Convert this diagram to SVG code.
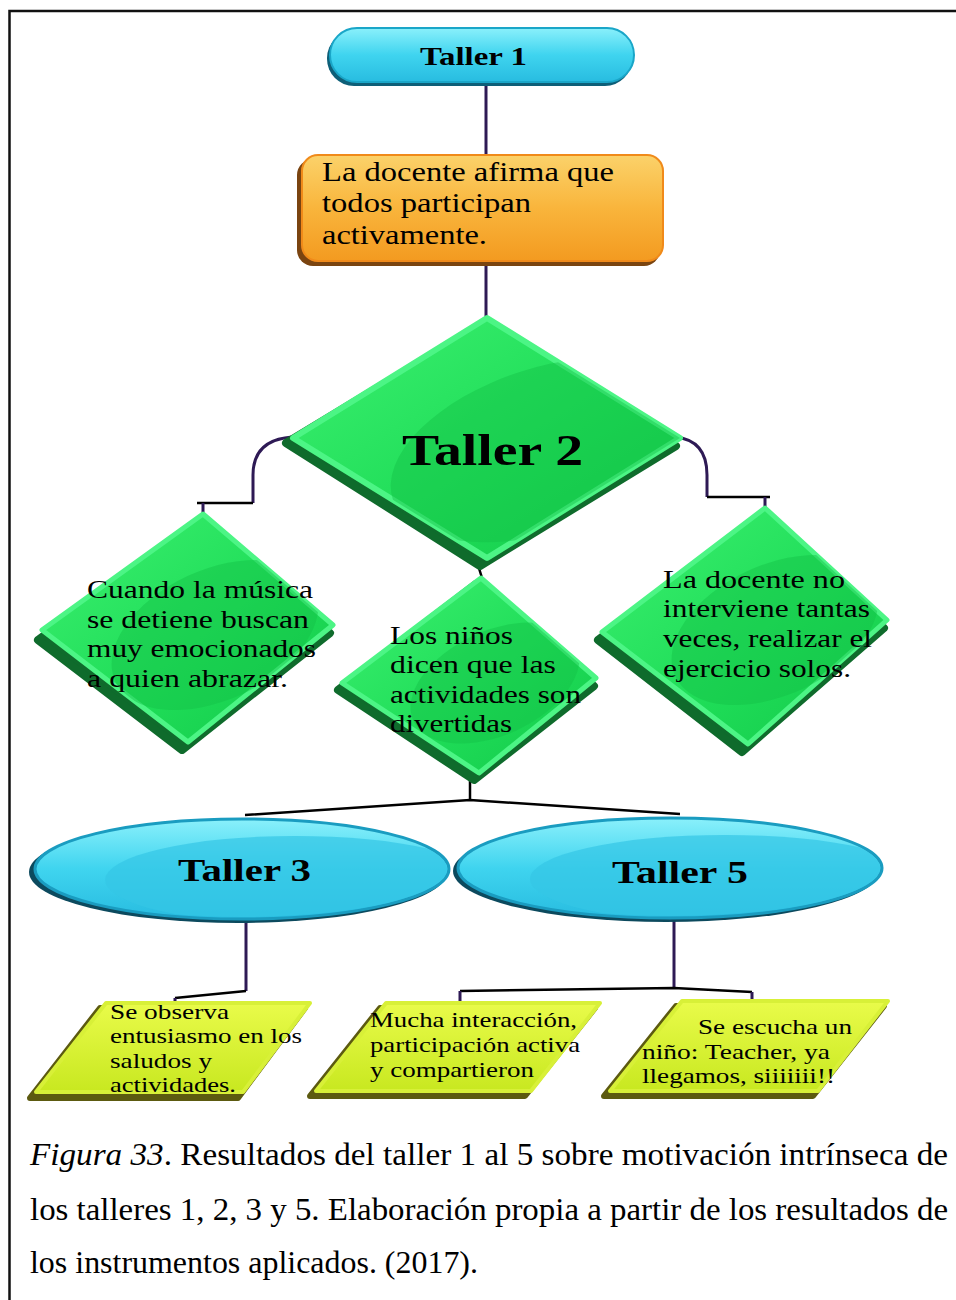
<svg xmlns="http://www.w3.org/2000/svg" width="956" height="1300" viewBox="0 0 956 1300">
<defs>
<style>
.conn{fill:none;stroke:#2e1a55;stroke-width:3}
.connk{fill:none;stroke:#000;stroke-width:2.5}
text{font-family:'Liberation Serif','Times New Roman','DejaVu Serif',serif;fill:#000}
.tb{font-weight:bold}
.cap{font-size:31px}
</style>
<linearGradient id="gCyan" x1="0" y1="0" x2="0" y2="1">
<stop offset="0" stop-color="#8af0fb"/><stop offset="0.5" stop-color="#3fd4ef"/><stop offset="1" stop-color="#28bce0"/>
</linearGradient>
<linearGradient id="gOrange" x1="0" y1="0" x2="0" y2="1">
<stop offset="0" stop-color="#fbd26a"/><stop offset="0.5" stop-color="#f9b53c"/><stop offset="1" stop-color="#f39a20"/>
</linearGradient>
<linearGradient id="gGreen" x1="0" y1="0" x2="1" y2="1">
<stop offset="0" stop-color="#3cf070"/><stop offset="0.6" stop-color="#1edc57"/><stop offset="1" stop-color="#14c84a"/>
</linearGradient>
<linearGradient id="gLime" x1="0" y1="0" x2="0" y2="1">
<stop offset="0" stop-color="#e9fb4a"/><stop offset="1" stop-color="#c8e820"/>
</linearGradient>
<clipPath id="cT2"><path d="M487,318 L680,438 L487,558 L293,438 Z"/></clipPath>
<clipPath id="cT3"><ellipse cx="242" cy="869" rx="205" ry="48"/></clipPath>
<clipPath id="cT5"><ellipse cx="670" cy="868" rx="210" ry="48"/></clipPath>
<clipPath id="cD1"><path d="M203,514 L333,625 L188,742 L42,630 Z"/></clipPath>
<clipPath id="cD2"><path d="M481,578 L596,678 L479,773 L342,683 Z"/></clipPath>
<clipPath id="cD3"><path d="M765,508 L887,620 L748,744 L602,632 Z"/></clipPath>
</defs>
<rect width="956" height="1300" fill="#fff"/>
<path d="M9.5,1300 V11 H956" fill="none" stroke="#111" stroke-width="2.5"/>

<g id="connectors">
<path class="conn" d="M486,85 V158"/>
<path class="conn" d="M486,265 V320"/>
<path class="conn" d="M292,437 Q253,440 253,475 V503"/>
<path class="connk" d="M253,503 H197"/>
<path class="conn" d="M203,503 V514"/>
<path class="conn" d="M675,437 Q707,440 707,475 V497"/>
<path class="connk" d="M707,497 H770"/>
<path class="conn" d="M765,497 V508"/>
<path class="connk" d="M478,565 L482,578"/>
<path class="connk" d="M470,778 V800"/>
<path class="connk" d="M245,815 L470,800 L680,814"/>
<path class="conn" d="M246,922 V991"/>
<path class="connk" d="M246,991 L175,998"/>
<path class="conn" d="M175,998 V1004"/>
<path class="conn" d="M674,920 V988"/>
<path class="connk" d="M460,991 L674,988 L752,992"/>
<path class="conn" d="M460,991 V1003"/>
<path class="conn" d="M752,992 V1002"/>
</g>

<g id="taller1">
<rect x="327" y="31" width="305" height="55" rx="27" fill="#0e5f78"/>
<rect x="330" y="28" width="304" height="54" rx="27" fill="url(#gCyan)" stroke="#1aa6c8" stroke-width="2"/>
<text class="tb" x="420" y="65" font-size="26" textLength="107" lengthAdjust="spacingAndGlyphs">Taller 1</text>
</g>

<g id="docente-afirma">
<rect x="297" y="159" width="363" height="107" rx="16" fill="#7a4410"/>
<rect x="302" y="155" width="361" height="106" rx="16" fill="url(#gOrange)" stroke="#f08a1a" stroke-width="2"/>
<text font-size="27"><tspan x="322" y="181" textLength="292" lengthAdjust="spacingAndGlyphs">La docente afirma que</tspan><tspan x="322" y="212" textLength="209" lengthAdjust="spacingAndGlyphs">todos participan</tspan><tspan x="322" y="244" textLength="165" lengthAdjust="spacingAndGlyphs">activamente.</tspan></text>
</g>

<g id="taller2">
<path d="M480,326 L676,446 L480,566 L286,443 Z" fill="#0f6b2c" stroke="#0f6b2c" stroke-width="8" stroke-linejoin="round"/>
<path d="M487,318 L680,438 L487,558 L293,438 Z" fill="url(#gGreen)" stroke="#4cf585" stroke-width="6" stroke-linejoin="round"/>
<g clip-path="url(#cT2)"><ellipse cx="545" cy="450" rx="160" ry="82" transform="rotate(-18 545 450)" fill="#14c048" opacity="0.45"/></g>
<text class="tb" x="402" y="465" font-size="44" textLength="181" lengthAdjust="spacingAndGlyphs">Taller 2</text>
</g>

<g id="cuando-musica">
<path d="M197,522 L330,633 L182,750 L38,640 Z" fill="#0f6b2c" stroke="#0f6b2c" stroke-width="8" stroke-linejoin="round"/>
<path d="M203,514 L333,625 L188,742 L42,630 Z" fill="url(#gGreen)" stroke="#4cf585" stroke-width="5" stroke-linejoin="round"/>
<g clip-path="url(#cD1)"><ellipse cx="215" cy="635" rx="110" ry="65" transform="rotate(-25 215 635)" fill="#14c048" opacity="0.45"/></g>
<text font-size="26"><tspan x="87" y="598" textLength="226" lengthAdjust="spacingAndGlyphs">Cuando la música</tspan><tspan x="87" y="628" textLength="222" lengthAdjust="spacingAndGlyphs">se detiene buscan</tspan><tspan x="87" y="657" textLength="229" lengthAdjust="spacingAndGlyphs">muy emocionados</tspan><tspan x="87" y="687" textLength="201" lengthAdjust="spacingAndGlyphs">a quien abrazar.</tspan></text>
</g>

<g id="ninos-dicen">
<path d="M476,584 L594,686 L474,780 L338,690 Z" fill="#0f6b2c" stroke="#0f6b2c" stroke-width="8" stroke-linejoin="round"/>
<path d="M481,578 L596,678 L479,773 L342,683 Z" fill="url(#gGreen)" stroke="#4cf585" stroke-width="5" stroke-linejoin="round"/>
<g clip-path="url(#cD2)"><ellipse cx="495" cy="683" rx="90" ry="52" transform="rotate(-25 495 683)" fill="#14c048" opacity="0.45"/></g>
<text font-size="26"><tspan x="390" y="644" textLength="123" lengthAdjust="spacingAndGlyphs">Los niños</tspan><tspan x="390" y="673" textLength="166" lengthAdjust="spacingAndGlyphs">dicen que las</tspan><tspan x="390" y="703" textLength="191" lengthAdjust="spacingAndGlyphs">actividades son</tspan><tspan x="390" y="732" textLength="122" lengthAdjust="spacingAndGlyphs">divertidas</tspan></text>
</g>

<g id="docente-no">
<path d="M760,516 L884,628 L742,752 L598,640 Z" fill="#0f6b2c" stroke="#0f6b2c" stroke-width="8" stroke-linejoin="round"/>
<path d="M765,508 L887,620 L748,744 L602,632 Z" fill="url(#gGreen)" stroke="#4cf585" stroke-width="5" stroke-linejoin="round"/>
<g clip-path="url(#cD3)"><ellipse cx="775" cy="630" rx="110" ry="65" transform="rotate(-25 775 630)" fill="#14c048" opacity="0.45"/></g>
<text font-size="26"><tspan x="663" y="588" textLength="182" lengthAdjust="spacingAndGlyphs">La docente no</tspan><tspan x="663" y="617" textLength="207" lengthAdjust="spacingAndGlyphs">interviene tantas</tspan><tspan x="663" y="647" textLength="209" lengthAdjust="spacingAndGlyphs">veces, realizar el</tspan><tspan x="663" y="677" textLength="188" lengthAdjust="spacingAndGlyphs">ejercicio solos.</tspan></text>
</g>

<g id="taller3">
<ellipse cx="238" cy="872" rx="209" ry="51" fill="#0c4a5e"/>
<ellipse cx="242" cy="869" rx="207" ry="50" fill="url(#gCyan)" stroke="#1a9cc0" stroke-width="3"/>
<ellipse cx="295" cy="880" rx="190" ry="44" fill="#35c6e6" opacity="0.7" clip-path="url(#cT3)"/>
<text class="tb" x="178" y="881" font-size="32" textLength="133" lengthAdjust="spacingAndGlyphs">Taller 3</text>
</g>

<g id="taller5">
<ellipse cx="666" cy="871" rx="213" ry="51" fill="#0c4a5e"/>
<ellipse cx="670" cy="868" rx="212" ry="50" fill="url(#gCyan)" stroke="#1a9cc0" stroke-width="3"/>
<ellipse cx="725" cy="879" rx="195" ry="44" fill="#35c6e6" opacity="0.7" clip-path="url(#cT5)"/>
<text class="tb" x="612" y="883" font-size="32" textLength="136" lengthAdjust="spacingAndGlyphs">Taller 5</text>
</g>

<g id="se-observa">
<path d="M100,1008 L305,1008 L238,1098 L30,1098 Z" fill="#5c5a10" stroke="#5c5a10" stroke-width="6" stroke-linejoin="round"/>
<path d="M106,1003 L310,1003 L243,1092 L36,1092 Z" fill="url(#gLime)" stroke="#d8f038" stroke-width="4" stroke-linejoin="round"/>
<text font-size="21"><tspan x="110" y="1019" textLength="119" lengthAdjust="spacingAndGlyphs">Se observa</tspan><tspan x="110" y="1043" textLength="192" lengthAdjust="spacingAndGlyphs">entusiasmo en los</tspan><tspan x="110" y="1068" textLength="102" lengthAdjust="spacingAndGlyphs">saludos y</tspan><tspan x="110" y="1092" textLength="126" lengthAdjust="spacingAndGlyphs">actividades.</tspan></text>
</g>

<g id="mucha-interaccion">
<path d="M380,1008 L595,1008 L525,1096 L310,1096 Z" fill="#5c5a10" stroke="#5c5a10" stroke-width="6" stroke-linejoin="round"/>
<path d="M386,1003 L600,1003 L531,1091 L316,1091 Z" fill="url(#gLime)" stroke="#d8f038" stroke-width="4" stroke-linejoin="round"/>
<text font-size="21"><tspan x="370" y="1027" textLength="207" lengthAdjust="spacingAndGlyphs">Mucha interacción,</tspan><tspan x="370" y="1052" textLength="210" lengthAdjust="spacingAndGlyphs">participación activa</tspan><tspan x="370" y="1077" textLength="164" lengthAdjust="spacingAndGlyphs">y compartieron</tspan></text>
</g>

<g id="se-escucha">
<path d="M676,1006 L884,1006 L813,1096 L604,1096 Z" fill="#5c5a10" stroke="#5c5a10" stroke-width="6" stroke-linejoin="round"/>
<path d="M682,1001 L888,1001 L818,1091 L610,1091 Z" fill="url(#gLime)" stroke="#d8f038" stroke-width="4" stroke-linejoin="round"/>
<text font-size="21"><tspan x="698" y="1034" textLength="154" lengthAdjust="spacingAndGlyphs">Se escucha un</tspan><tspan x="642" y="1059" textLength="188" lengthAdjust="spacingAndGlyphs">niño: Teacher, ya</tspan><tspan x="642" y="1083" textLength="193" lengthAdjust="spacingAndGlyphs">llegamos, siiiiiii!!</tspan></text>
</g>

<g id="caption">
<text class="cap" x="30" y="1165" textLength="918" lengthAdjust="spacingAndGlyphs"><tspan font-style="italic">Figura 33</tspan>. Resultados del taller 1 al 5 sobre motivación intrínseca de</text>
<text class="cap" x="30" y="1220" textLength="918" lengthAdjust="spacingAndGlyphs">los talleres 1, 2, 3 y 5. Elaboración propia a partir de los resultados de</text>
<text class="cap" x="30" y="1273" textLength="448" lengthAdjust="spacingAndGlyphs">los instrumentos aplicados. (2017).</text>
</g>
</svg>
